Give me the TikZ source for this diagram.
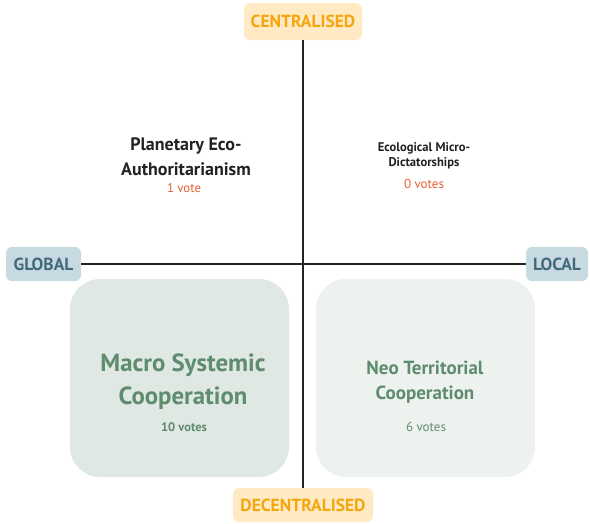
\documentclass[tikz,border=0pt]{standalone}
\usepackage{fontspec}
\setmainfont{PT Sans}
\begin{document}
\begin{tikzpicture}[x=1pt,y=-1pt]

  \tikzstyle{axislabel} = [rounded corners=6pt, inner sep=0pt, font=\bfseries\fontsize{17.5}{20}\selectfont]
  \tikzstyle{quadrant} = [rounded corners=30pt, inner sep=0pt, minimum width=219pt, minimum height=198pt]
  \tikzstyle{title} = [align=center, inner sep=0pt]
  \tikzstyle{votes} = [inner sep=0pt, font=\fontsize{13}{15}\selectfont]

  \definecolor{amber}{HTML}{F5A60F}
  \definecolor{amberfill}{HTML}{FFEAC4}
  \definecolor{slate}{HTML}{44697B}
  \definecolor{slatefill}{HTML}{C7DAE2}
  \definecolor{sage}{HTML}{5F8B6F}
  \definecolor{sagefill}{HTML}{DFE8E3}
  \definecolor{sagelight}{HTML}{EDF2EF}
  \definecolor{rust}{HTML}{E5602E}
  \definecolor{ink}{HTML}{222222}

  \useasboundingbox (0,0) rectangle (590,523);

  % axis ends
  \node[axislabel, fill=amberfill, text=amber, minimum width=118pt, minimum height=37pt] (central) at (303,21.5) {CENTRALISED};
  \node[axislabel, fill=amberfill, text=amber, minimum width=140pt, minimum height=34pt] (decentral) at (303,505) {DECENTRALISED};
  \node[axislabel, fill=slatefill, text=slate, minimum width=75pt, minimum height=34pt] (global) at (43.5,264) {GLOBAL};
  \node[axislabel, fill=slatefill, text=slate, minimum width=62pt, minimum height=34pt] (local) at (557,264) {LOCAL};

  \draw[line width=2pt, ink] (central) -- (decentral);
  \draw[line width=2pt, ink] (global) -- (local);

  % quadrants
  \node[quadrant, fill=sagefill] (macrobox) at (179.5,378) {};
  \node[quadrant, fill=sagelight] (neobox) at (425.5,378) {};

  \node[title, text=sage, font=\bfseries\fontsize{24.8}{33}\selectfont] (macro) at (183,382) {Macro Systemic\\Cooperation};
  \node[votes, text=sage, font=\bfseries\fontsize{12.5}{15}\selectfont] (macrovotes) at (184,427) {10 votes};

  \node[title, text=sage, font=\bfseries\fontsize{19}{25}\selectfont] (neo) at (425,382) {Neo Territorial\\Cooperation};
  \node[votes, text=sage] (neovotes) at (426,427) {6 votes};

  \node[title, text=ink, font=\bfseries\fontsize{18}{25}\selectfont] (planetary) at (186,156.5) {Planetary Eco-\\Authoritarianism};
  \node[votes, text=rust, font=\fontsize{12.8}{15}\selectfont] (planetaryvotes) at (184,188) {1 vote};

  \node[title, text=ink, font=\bfseries\fontsize{12.6}{15}\selectfont] (micro) at (424,156) {Ecological Micro-\\Dictatorships};
  \node[votes, text=rust] (microvotes) at (424,184) {0 votes};

\end{tikzpicture}
\end{document}
